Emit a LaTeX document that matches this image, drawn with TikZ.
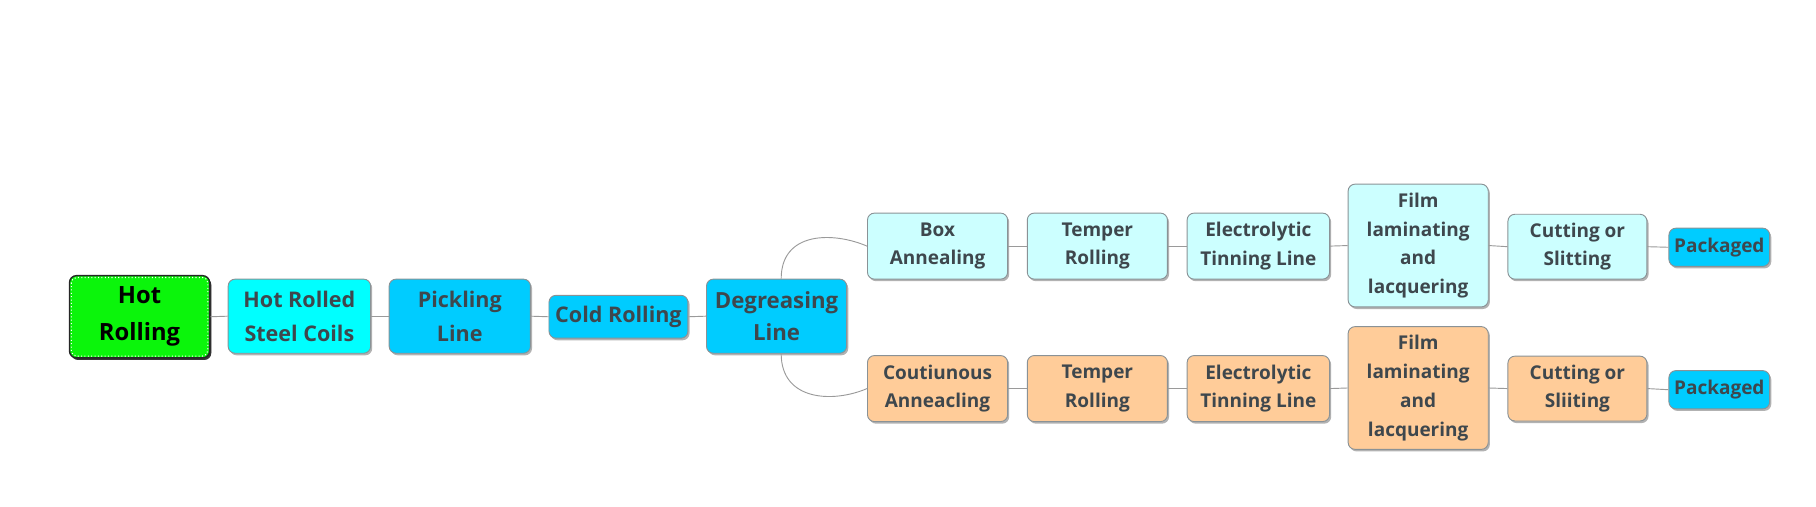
\documentclass[tikz,border=0pt]{standalone}
\usepackage{fontspec}
\setmainfont{Open Sans}
\usetikzlibrary{shadows,calc}
\definecolor{hrgreen}{HTML}{0BF50B}
\definecolor{cyanbox}{HTML}{00FFFF}
\definecolor{skybox}{HTML}{00CCFF}
\definecolor{lightbox}{HTML}{CCFFFF}
\definecolor{peachbox}{HTML}{FFCC99}
\definecolor{bordergray}{HTML}{8A9296}
\definecolor{txtgray}{HTML}{3E474D}
\definecolor{conngray}{HTML}{9A9A9A}
\tikzset{
  box/.style={draw=bordergray, line width=0.8pt, rounded corners=6pt, align=center,
    font=\bfseries\fontsize{16.4}{24.8}\selectfont, text=txtgray,
    minimum width=121pt, minimum height=57pt, inner sep=0pt,
    drop shadow={shadow xshift=1.4pt, shadow yshift=-1.8pt, opacity=0.3, fill=black}},
  bigbox/.style={box, font=\bfseries\fontsize{18.6}{29}\selectfont},
  conn/.style={draw=conngray, line width=0.8pt},
}
\begin{document}
\begin{tikzpicture}[x=1pt,y=-1pt]
\useasboundingbox (0,0) rectangle (1568,437);
% main chain
\node[box, fill=hrgreen, draw=black!85, line width=1.2pt, text=black,
  font=\bfseries\fontsize{20.5}{32}\selectfont, minimum width=121pt, minimum height=71pt,
  drop shadow={shadow xshift=1.4pt, shadow yshift=-1.8pt, opacity=0.7, fill=black}]
  (hr) at (120.5,273.5) {Hot\\Rolling};
\draw[white, dotted, line width=0.9pt, rounded corners=4.5pt]
  ($(hr.north west)+(2.2,2.2)$) rectangle ($(hr.south east)+(-2.2,-2.2)$);
\node[bigbox, fill=cyanbox, minimum width=123pt, minimum height=64pt] (hrsc) at (258.5,273) {Hot Rolled\\Steel Coils};
\node[bigbox, fill=skybox, minimum width=122pt, minimum height=64pt] (pk) at (397,273) {Pickling\\Line};
\node[bigbox, fill=skybox, minimum width=120pt, minimum height=37pt] (cr) at (534,273.5) {Cold Rolling};
\node[box, fill=skybox, font=\bfseries\fontsize{19.2}{28}\selectfont, minimum width=121pt, minimum height=64pt] (dg) at (670.5,273) {Degreasing\\Line};
% top row
\node[box, fill=lightbox] (ba) at (809.5,212.5) {Box\\Annealing};
\node[box, fill=lightbox] (tr1) at (947.5,212.5) {Temper\\Rolling};
\node[box, fill=lightbox, minimum width=123pt] (el1) at (1086.5,212.5) {Electrolytic\\Tinning Line};
\node[box, fill=lightbox, minimum height=106pt] (fl1) at (1224.5,212) {Film\\laminating\\and\\lacquering};
\node[box, fill=lightbox, minimum width=120pt, minimum height=56pt] (cs1) at (1362,213) {Cutting or\\Slitting};
\node[box, fill=skybox, minimum width=87pt, minimum height=33pt] (pa1) at (1484.5,213.5) {Packaged};
% bottom row
\node[box, fill=peachbox] (ca) at (809.5,335.5) {Coutiunous\\Anneacling};
\node[box, fill=peachbox] (tr2) at (947.5,335.5) {Temper\\Rolling};
\node[box, fill=peachbox, minimum width=123pt] (el2) at (1086.5,335.5) {Electrolytic\\Tinning Line};
\node[box, fill=peachbox, minimum height=106pt] (fl2) at (1224.5,335) {Film\\laminating\\and\\lacquering};
\node[box, fill=peachbox, minimum width=120pt, minimum height=56pt] (cs2) at (1362,335.5) {Cutting or\\Sliiting};
\node[box, fill=skybox, minimum width=87pt, minimum height=33pt] (pa2) at (1484.5,336.5) {Packaged};
% connectors
\draw[conn] (hr.east) -- (hrsc.west);
\draw[conn] (hrsc.east) -- (pk.west);
\draw[conn] (pk.east) -- (cr.west);
\draw[conn] (cr.east) -- (dg.west);
\draw[conn] ([xshift=4pt]dg.north) .. controls +(0,-41) and +(-29,-12.5) .. (ba.west);
\draw[conn] ([xshift=4pt]dg.south) .. controls +(0,41) and +(-29,12.5) .. (ca.west);
\draw[conn] (ba.east) -- (tr1.west);
\draw[conn] (tr1.east) -- (el1.west);
\draw[conn] (el1.east) -- (fl1.west);
\draw[conn] (fl1.east) -- (cs1.west);
\draw[conn] (cs1.east) -- (pa1.west);
\draw[conn] (ca.east) -- (tr2.west);
\draw[conn] (tr2.east) -- (el2.west);
\draw[conn] (el2.east) -- (fl2.west);
\draw[conn] (fl2.east) -- (cs2.west);
\draw[conn] (cs2.east) -- (pa2.west);
\end{tikzpicture}
\end{document}
